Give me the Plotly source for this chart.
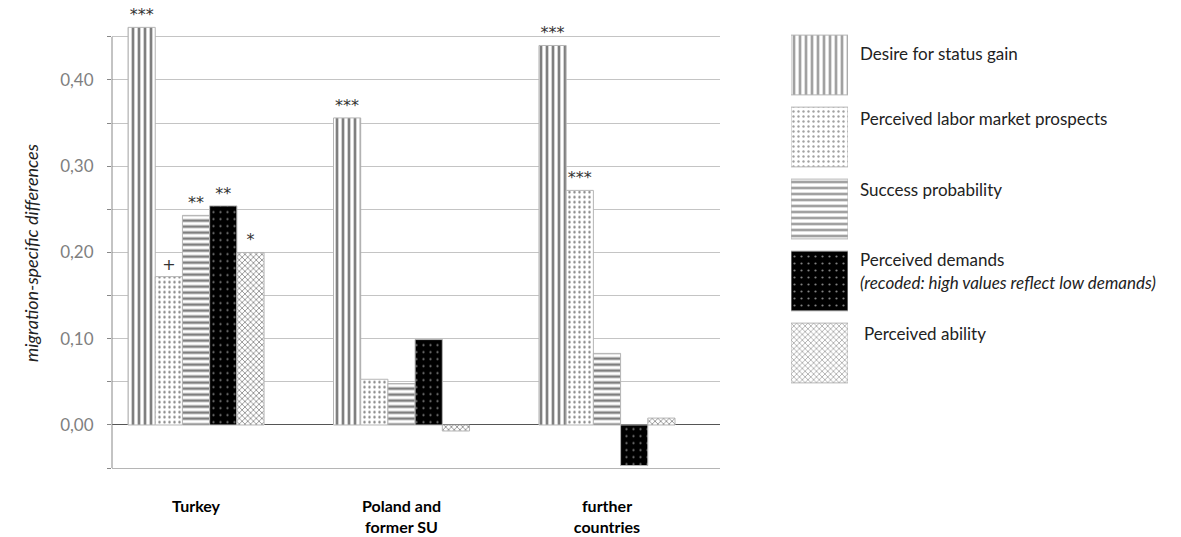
import plotly.graph_objects as go

categories = ["Turkey", "Poland and<br>former SU", "further<br>countries"]
series_names = [
    "Desire for status gain",
    "Perceived labor market prospects",
    "Success probability",
    "Perceived demands",
    "Perceived ability",
]
status_gain = [0.461, 0.356, 0.440]
labor_market = [0.172, 0.053, 0.272]
success_prob = [0.243, 0.048, 0.083]
demands = [0.254, 0.099, -0.047]
ability = [0.200, -0.007, 0.008]
values = [status_gain, labor_market, success_prob, demands, ability]

sig_status = ["***", "***", "***"]
sig_labor = ["+", "", "***"]
sig_success = ["**", "", ""]
sig_demands = ["**", "", ""]
sig_ability = ["*", "", ""]
sigs = [sig_status, sig_labor, sig_success, sig_demands, sig_ability]

legend_lines = [
    "Desire for status gain",
    "Perceived labor market prospects",
    "Success probability",
    "Perceived demands",
    "<i>(recoded: high values reflect low demands)</i>",
    "Perceived ability",
]

patterns = [
    dict(shape="|", size=6, solidity=0.45, fgcolor="black", bgcolor="white"),
    dict(shape=".", size=5, solidity=0.18, fgcolor="black", bgcolor="white"),
    dict(shape="-", size=6, solidity=0.45, fgcolor="black", bgcolor="white"),
    dict(shape=".", size=7, solidity=0.08, fgcolor="white", bgcolor="black"),
    dict(shape="x", size=4, solidity=0.35, fgcolor="#000", bgcolor="white"),
]

FONT = "Lato"
W, H = 1181, 537

fig = go.Figure()
for name, vals, sg, pat in zip(series_names, values, sigs, patterns):
    fig.add_trace(go.Bar(
        x=categories, y=vals, name=name, text=sg,
        textposition="outside", cliponaxis=False, constraintext="none",
        textfont=dict(family="DejaVu Sans", size=16, color="#333"),
        outsidetextfont=dict(family="DejaVu Sans", size=16, color="#333"),
        marker=dict(color=pat["bgcolor"], pattern=pat,
                    line=dict(color="#b5b5b5", width=1)),
        showlegend=False, xaxis="x", yaxis="y", hoverinfo="skip",
    ))

# legend swatches drawn as bars on a hidden subplot
fig.add_trace(go.Bar(
    y=series_names, x=[1] * len(series_names), orientation="h", width=0.83,
    marker=dict(
        color=[p["bgcolor"] for p in patterns],
        pattern=dict(
            shape=[p["shape"] for p in patterns],
            size=[p["size"] for p in patterns],
            solidity=[p["solidity"] for p in patterns],
            fgcolor=[p["fgcolor"] for p in patterns],
            bgcolor=[p["bgcolor"] for p in patterns],
        ),
        line=dict(color="#b5b5b5", width=1),
    ),
    showlegend=False, xaxis="x2", yaxis="y2", hoverinfo="skip",
))

x0p, x1p = 112 / W, 720 / W
y_lo, y_hi = -0.05, 0.47
ydom = [1 - 468.1 / H, 1 - 19.6 / H]

fig.update_layout(
    width=W, height=H,
    margin=dict(l=0, r=0, t=0, b=0),
    paper_bgcolor="white", plot_bgcolor="white",
    separators=",.",
    barmode="group", bargap=0.338, bargroupgap=0,
    font=dict(family=FONT, color="#222"),
    xaxis=dict(
        domain=[x0p, x1p], range=[-0.409, 2.55], type="category",
        showline=True, linecolor="#b5b5b5", linewidth=1,
        showgrid=False, ticks="", ticklabelstandoff=24,
        tickfont=dict(family=FONT, size=16, color="black", weight="bold"),
        automargin=False,
    ),
    yaxis=dict(
        domain=ydom, range=[y_lo, y_hi],
        tickvals=[0, 0.1, 0.2, 0.3, 0.4], tickformat=".2f",
        tickfont=dict(family=FONT, size=17, color="#7f7f7f"),
        showgrid=True, gridcolor="#c4c4c4", gridwidth=1,
        zeroline=True, zerolinecolor="#555", zerolinewidth=1,
        ticks="outside", ticklen=4, tickcolor="#888",
        minor=dict(dtick=0.05, tick0=0, showgrid=True, gridcolor="#c4c4c4",
                   ticks="outside", ticklen=4, tickcolor="#888"),
        showline=False, ticklabelstandoff=10, automargin=False,
    ),
    xaxis2=dict(domain=[791 / W, 848 / W], range=[0, 1], visible=False,
                anchor="y2"),
    yaxis2=dict(domain=[1 - 389 / H, 1 - 29 / H], visible=False,
                categoryorder="array", categoryarray=series_names,
                autorange="reversed", anchor="x2"),
)

fig.add_shape(type="line", xref="paper", yref="y", x0=x0p, x1=x0p,
              y0=-0.05, y1=0.45, line=dict(color="#888", width=1))

fig.add_annotation(text="<i>migration-specific differences</i>", xref="paper",
                   yref="paper", x=18 / W, y=1 - 253 / H, textangle=-90,
                   showarrow=False, font=dict(family=FONT, size=18, color="#222"))

legend_y = [53, 118, 189, 260, 282, 333]
legend_x = [858, 858, 858, 858, 858, 862]
for txt, yy, xx in zip(legend_lines, legend_y, legend_x):
    fig.add_annotation(text=txt, xref="paper", yref="paper", x=xx / W,
                       y=1 - yy / H, xanchor="left", yanchor="middle",
                       showarrow=False,
                       font=dict(family=FONT, size=17, color="#222"))

fig.write_html("out.html",
               config={"displayModeBar": False},
               post_script="document.body.style.margin='0';"
                           "document.body.style.padding='0';")
